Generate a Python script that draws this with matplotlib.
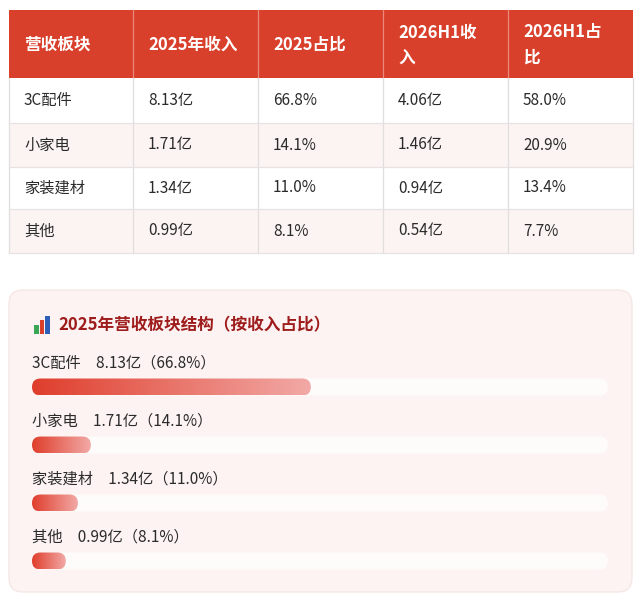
import numpy as np
import matplotlib
matplotlib.use("Agg")
import matplotlib.pyplot as plt
from matplotlib.patches import Rectangle, FancyBboxPatch
from matplotlib.colors import LinearSegmentedColormap

plt.rcParams['font.family'] = ['Noto Sans CJK SC', 'DejaVu Sans']

# ---------------- data ----------------
headers = ['营收板块', '2025年收入', '2025占比', '2026H1收\n入', '2026H1占\n比']
categories = ['3C配件', '小家电', '家装建材', '其他']
rev_2025 = [8.13, 1.71, 1.34, 0.99]
share_2025 = [66.8, 14.1, 11.0, 8.1]
rev_2026h1 = [4.06, 1.46, 0.94, 0.54]
share_2026h1 = [58.0, 20.9, 13.4, 7.7]
chart_title = '2025年营收板块结构（按收入占比）'

W, H = 640, 606
fig = plt.figure(figsize=(W / 100, H / 100), dpi=100)
fig.patch.set_facecolor('white')

# layout axes in pixel coordinates
bg = fig.add_axes([0, 0, 1, 1])
bg.set_xlim(0, W)
bg.set_ylim(H, 0)
bg.axis('off')

HEAD_RED = '#d9402c'
TXT = '#2b2b2b'

# ---------------- table ----------------
col_x = [9, 133, 258, 383, 508, 633]
row_y = [10, 78, 123, 167, 209, 253]
row_bg = ['white', '#fbf4f3', 'white', '#fbf4f3']

bg.add_patch(Rectangle((col_x[0], row_y[0]), col_x[-1] - col_x[0], row_y[1] - row_y[0],
                       facecolor=HEAD_RED, edgecolor='none', zorder=1))
for r in range(4):
    bg.add_patch(Rectangle((col_x[0], row_y[r + 1]), col_x[-1] - col_x[0],
                           row_y[r + 2] - row_y[r + 1], facecolor=row_bg[r],
                           edgecolor='none', zorder=1))
# grid lines
for x in col_x[1:-1]:
    bg.plot([x, x], [row_y[0], row_y[1]], color='#e9897a', lw=0.9, zorder=2)
    bg.plot([x, x], [row_y[1], row_y[-1]], color='#e2dede', lw=0.9, zorder=2)
for x in (col_x[0], col_x[-1]):
    bg.plot([x, x], [row_y[1], row_y[-1]], color='#e2dede', lw=0.9, zorder=2)
for y in row_y[2:]:
    bg.plot([col_x[0], col_x[-1]], [y, y], color='#e8e3e3', lw=0.9, zorder=2)

pad = 15
for c, h in enumerate(headers):
    bg.text(col_x[c] + pad, (row_y[0] + row_y[1]) / 2 + 1, h, color='white',
            fontsize=12, fontweight='bold', ha='left', va='center',
            linespacing=1.5, zorder=3)

cells = [categories,
         [f'{v:.2f}亿' for v in rev_2025],
         [f'{v:.1f}%' for v in share_2025],
         [f'{v:.2f}亿' for v in rev_2026h1],
         [f'{v:.1f}%' for v in share_2026h1]]
for c, col in enumerate(cells):
    for r, s in enumerate(col):
        bg.text(col_x[c] + pad, (row_y[r + 1] + row_y[r + 2]) / 2, s, color=TXT,
                fontsize=11, ha='left', va='center', zorder=3)

# ---------------- card ----------------
bg.add_patch(FancyBboxPatch((9, 290), 623, 302,
                            boxstyle='round,pad=0,rounding_size=14',
                            facecolor='#fcf3f2', edgecolor='#f6e7e5', lw=1, zorder=1))

# icon (bar chart emoji substitute)
bg.add_patch(Rectangle((34, 325), 4.5, 8.5, facecolor='#3aa655', edgecolor='none', zorder=3))
bg.add_patch(Rectangle((39.5, 320), 4.5, 13.5, facecolor='#d8402c', edgecolor='none', zorder=3))
bg.add_patch(Rectangle((45, 315.5), 4.5, 18, facecolor='#2e5fb8', edgecolor='none', zorder=3))

bg.text(58, 325, chart_title, color='#9e1c1c', fontsize=12, fontweight='bold',
        ha='left', va='center', zorder=3)

# ---------------- bars ----------------
trk_l, trk_r = 32, 608
bar_top, bar_bot = 358, 590
ax = fig.add_axes([trk_l / W, 1 - bar_bot / H, (trk_r - trk_l) / W, (bar_bot - bar_top) / H])
ax.set_facecolor('none')
ax.axis('off')
XMAX = 138.0
n = len(categories)
ax.set_xlim(0, XMAX)
ax.set_ylim(n - 0.5, -0.5)

px_per_x = (trk_r - trk_l) / XMAX
px_per_y = (bar_bot - bar_top) / n
bar_px = 17
h = bar_px / px_per_y
r_x = (bar_px / 2) / px_per_x
asp = px_per_x / px_per_y

cmap = LinearSegmentedColormap.from_list('g', ['#df3e2c', '#f2a9a6'])
grad = np.linspace(0, 1, 256).reshape(1, -1)

for i, (cat, v, p) in enumerate(zip(categories, rev_2025, share_2025)):
    track = FancyBboxPatch((0, i - h / 2), XMAX, h,
                           boxstyle=f'round,pad=0,rounding_size={r_x}',
                           mutation_aspect=asp, facecolor='#fefbfb',
                           edgecolor='none', zorder=1)
    ax.add_patch(track)
    fill = FancyBboxPatch((0, i - h / 2), p, h,
                          boxstyle=f'round,pad=0,rounding_size={r_x}',
                          mutation_aspect=asp, facecolor='none',
                          edgecolor='none', zorder=2)
    ax.add_patch(fill)
    im = ax.imshow(grad, cmap=cmap, aspect='auto', extent=[0, p, i + h / 2, i - h / 2],
                   zorder=2, interpolation='bilinear')
    im.set_clip_path(fill)
    ax.text(0, i - 24 / px_per_y, f'{cat}\u3000{v:.2f}亿（{p:.1f}%）', color=TXT,
            fontsize=11, ha='left', va='center', zorder=3)

ax.set_xlim(0, XMAX)
ax.set_ylim(n - 0.5, -0.5)

fig.savefig('out.png', dpi=100, facecolor='white')
